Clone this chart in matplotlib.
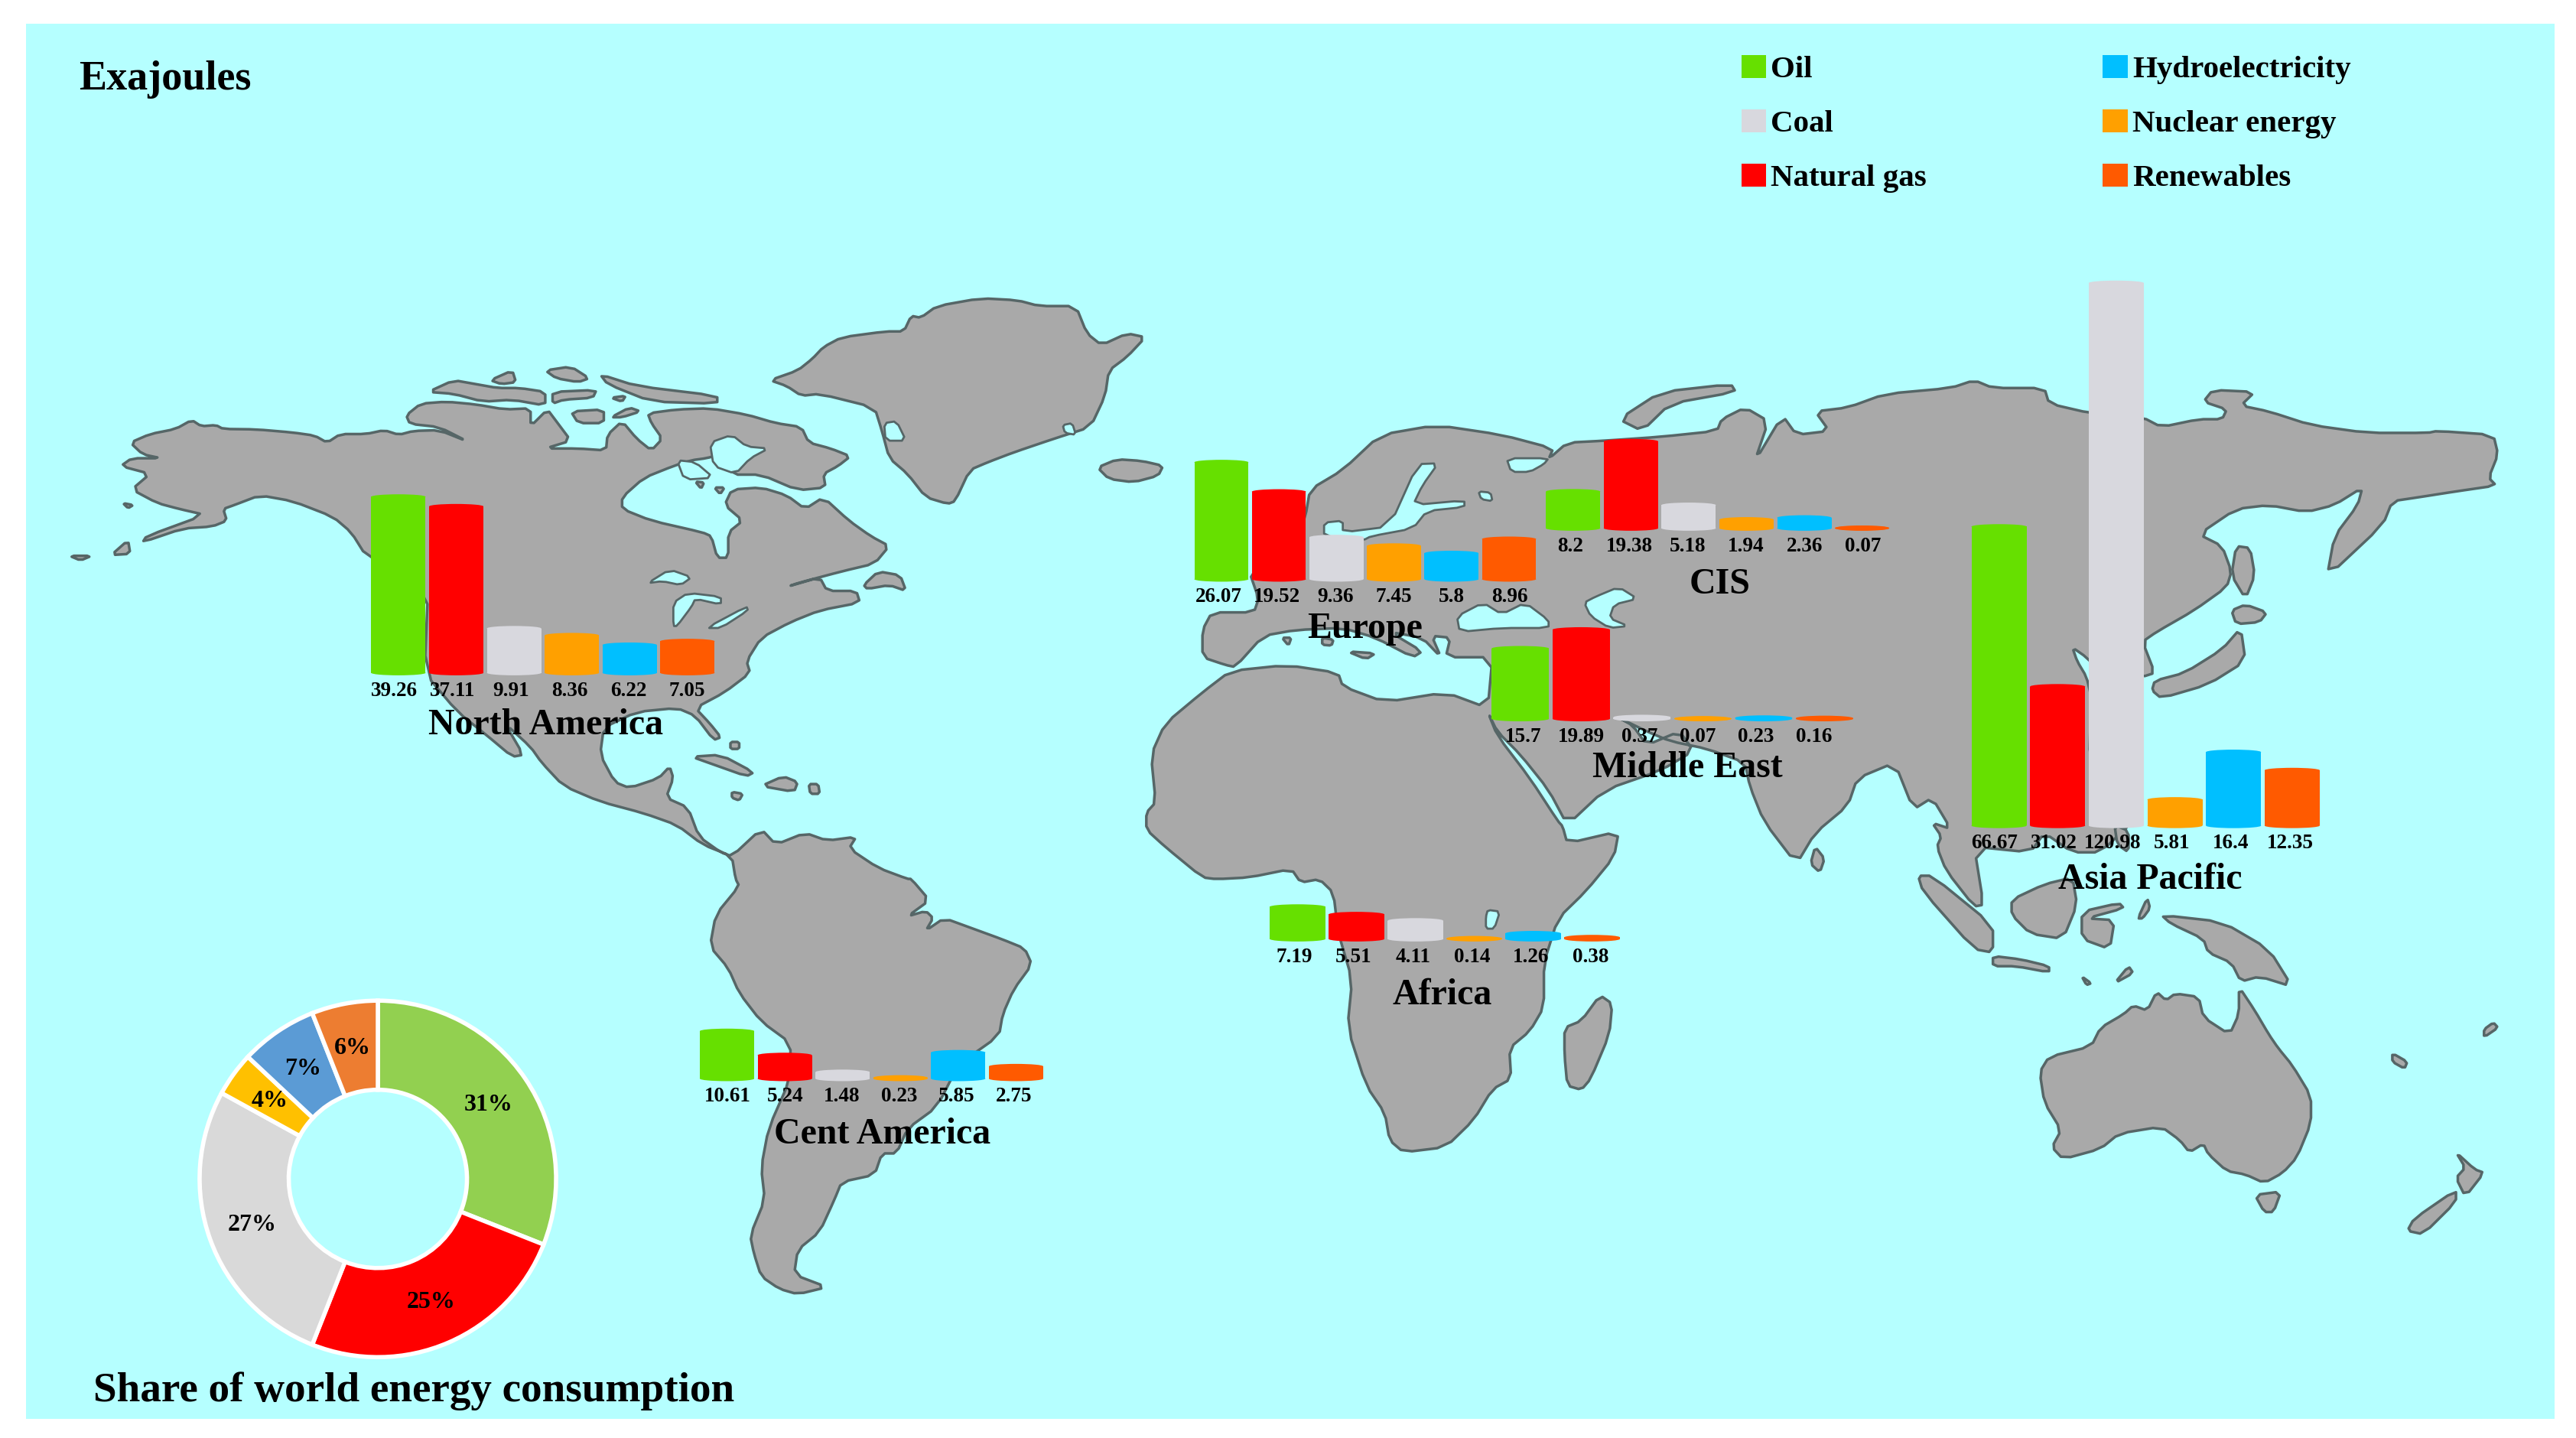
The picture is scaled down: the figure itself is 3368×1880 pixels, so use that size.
import matplotlib
matplotlib.use("Agg")
import matplotlib.pyplot as plt
from matplotlib.patches import Polygon, Rectangle, Ellipse
import numpy as np

# ---------- data ----------
sources = ["Oil", "Natural gas", "Coal", "Nuclear energy", "Hydroelectricity", "Renewables"]
north_america = [39.26, 37.11, 9.91, 8.36, 6.22, 7.05]
europe = [26.07, 19.52, 9.36, 7.45, 5.8, 8.96]
cis = [8.2, 19.38, 5.18, 1.94, 2.36, 0.07]
middle_east = [15.7, 19.89, 0.37, 0.07, 0.23, 0.16]
asia_pacific = [66.67, 31.02, 120.98, 5.81, 16.4, 12.35]
africa = [7.19, 5.51, 4.11, 0.14, 1.26, 0.38]
cent_america = [10.61, 5.24, 1.48, 0.23, 5.85, 2.75]
share_values = [31, 25, 27, 4, 7, 6]

SERIF = "Liberation Serif"
W, H = 1568.0, 875.7
BG = "#B5FFFF"; LAND = "#A9A9A9"; EDGE = "#566667"
bar_colors = ["#66E000", "#FF0000", "#D8D8DE", "#FFA000", "#00BFFF", "#FF5A00"]
pie_colors = ["#92D050", "#FF0000", "#D9D9D9", "#FFC000", "#5B9BD5", "#ED7D31"]

fig = plt.figure(figsize=(33.68, 18.81), dpi=100, facecolor="white")
base = fig.add_axes([0, 0, 1, 1]); base.set_xlim(0, W); base.set_ylim(H, 0); base.axis("off")
base.add_patch(Rectangle((16, 15), 1539, 849, fc=BG, ec="none", zorder=0))

# coordinate helpers for tracing the background map
def A(p): return [(x*0.4455, 163+y*0.2375) for x, y in p]
def B(p): return [(675+x*0.5694, 163+y*0.2375) for x, y in p]
def C(p): return [(x*0.4455, 535.4+y*0.217) for x, y in p]
def D(p): return [(675+x*0.5694, 488.8+y*0.2078) for x, y in p]

def smooth(pts, n=1):
    p = np.array(pts, float)
    for _ in range(n):
        q = np.roll(p, -1, axis=0)
        p = np.column_stack([0.8*p+0.2*q, 0.2*p+0.8*q]).reshape(-1, 2)
    return p

def land(pts, n=1):
    base.add_patch(Polygon(smooth(pts, n), closed=True, fc=LAND, ec=EDGE, lw=2.5, joinstyle="round", zorder=1))
def water(pts, n=1):
    base.add_patch(Polygon(smooth(pts, n), closed=True, fc=BG, ec=EDGE, lw=2.0, joinstyle="round", zorder=2))

# Americas
americas = A([(178,450),(205,428),(240,415),(262,392),(275,408),(295,405),(305,415),(350,416),(400,424),(430,432),(447,450),(465,428),(500,428),(525,418),(545,430),(565,420),(600,418),(640,448),(600,410),(560,402),(555,380),(575,350),(610,345),(650,352),(690,365),(725,362),(725,408),(748,365),(760,395),(780,445),(745,465),(790,465),(828,470),(830,430),(850,395),(870,440),(890,470),(905,440),(890,400),(885,375),(925,365),(970,362),(1020,378),(1060,400),(1095,410),(1105,450),(1135,465),(1162,485),(1145,510),(1125,530),(1128,565),(1090,572),(1040,532),(1000,532),(985,480),(965,490),(945,495),(920,510),(880,540),(850,590),(850,620),(890,650),(960,680),(972,690),(980,745),(995,745),(995,680),(1015,650),(990,610),(1000,570),(1040,565),(1075,585),(1100,620),(1125,590),(1160,650),(1190,690),(1215,715),(1195,760),(1150,780),(1090,810),(1078,818),(1120,795),(1130,830),(1170,830),(1175,860),(1120,880),(1080,910),(1040,950),(1020,1010),(1025,1040),(990,1090),(950,1130),(970,1170),(985,1205),(975,1212),(950,1150),(925,1130),(870,1140),(825,1180),(820,1250),(840,1320),(860,1335),(900,1310),(915,1280),(920,1310),(910,1360),(940,1385),(955,1460),(985,1500),(1000,1510),(1040,1440),(1060,1480),(1100,1450),(1130,1470),(1170,1460),(1160,1490),(1200,1540),(1240,1568)]) \
 + C([(1245,0),(1270,60),(1240,105),(1265,90),(1275,110),(1265,145),(1290,110),(1330,140),(1370,170),(1400,195),(1410,240),(1385,310),(1370,380),(1365,440),(1310,520),(1280,640),(1240,700),(1225,770),(1205,770),(1195,830),(1150,850),(1140,900),(1120,990),(1090,1040),(1085,1110),(1130,1145),(1090,1165),(1065,1150),(1040,1115),(1030,1050),(1025,1000),(1045,900),(1040,810),(1050,700),(1080,560),(1080,460),(1040,400),(1010,320),(995,250),(970,190),(978,100),(1010,20),(1005,0)]) \
 + A([(1000,1510),(960,1480),(925,1430),(880,1400),(820,1370),(770,1330),(740,1270),(725,1230),(690,1170),(715,1250),(700,1255),(665,1200),(625,1140),(580,1040),(585,820),(500,740),(480,680),(455,640),(400,600),(355,585),(320,610),(305,620),(310,650),(290,665),(250,670),(195,705),(200,690),(280,635),(245,620),(215,605),(180,570),(205,530),(165,510),(180,490),(220,490),(195,480)])
land(americas)

for isl in [
    [(585,320),(620,290),(650,300),(680,310),(710,310),(745,320),(745,355),(700,340),(660,345),(620,325)],
    [(670,290),(700,265),(705,295),(685,300)],
    [(745,265),(780,255),(805,285),(790,295),(760,285)],
    [(820,275),(870,305),(980,330),(980,350),(890,345),(830,300)],
    [(755,320),(815,315),(810,335),(770,340),(755,350)],
    [(835,335),(855,330),(850,345)],
    [(780,370),(825,365),(825,400),(790,400)],
    [(835,385),(860,360),(875,370),(850,385)],
    [(95,740),(125,740),(110,752)], [(152,738),(175,700),(178,735)], [(168,605),(182,610),(175,618)],
    [(1180,815),(1200,780),(1230,790),(1238,830),(1215,815),(1185,825)],
    [(945,1255),(985,1250),(1030,1295),(1020,1305),(975,1275)],
    [(1040,1330),(1070,1305),(1090,1320),(1085,1345)],
    [(1000,1345),(1015,1350),(1010,1367),(1000,1360)],
    [(1105,1325),(1118,1325),(1120,1350),(1107,1350)],
    [(998,1217),(1010,1217),(1010,1235),(998,1235)],
    [(950,550),(962,552),(958,568)], [(976,565),(990,565),(984,582)],
]:
    land(A(isl))

for lk in [
    [(885,810),(915,775),(945,795),(930,815),(905,805)],
    [(920,920),(920,860),(940,835),(985,845),(985,865),(950,850),(945,870),(925,920)],
    [(965,925),(1020,870),(1022,880),(985,925)],
    [(1000,430),(1020,460),(1050,465),(1025,490),(1005,530),(975,510),(970,450)],
    [(925,495),(950,500),(975,540),(935,545)],
]:
    water(A(lk))

# Greenland and Iceland
land(A([(1052,290),(1090,265),(1110,235),(1125,205),(1150,180),(1210,165),(1235,165),(1245,125),(1258,130),(1280,100),(1340,80),(1390,85),(1420,100),(1470,100),(1485,170),(1505,200),(1540,170),(1565,180),(1540,230),(1515,265),(1510,330),(1490,410),(1440,440),(1385,475),(1350,500),(1325,520),(1305,600),(1295,607),(1265,590),(1240,530),(1215,490),(1205,420),(1195,360),(1120,325),(1095,330),(1075,305)]))
water(A([(1208,400),(1225,395),(1238,445),(1210,445)])); water(A([(1452,405),(1465,400),(1470,430),(1455,425)]))
land([(668,285),(680,280),(695,281),(708,284),(705,290),(690,294),(675,292)])

# Eurasia and Africa
afroeurasia = B([(100,1000),(100,930),(110,885),(155,885),(160,850),(150,780),(200,700),(210,640),(215,570),(250,520),(290,430),(350,405),(420,430),(475,465),(470,492),(490,450),(530,445),(590,435),(650,420),(655,390),(680,360),(705,395),(690,500),(720,380),(735,430),(770,420),(755,370),(790,360),(830,325),(900,310),(925,290),(945,310),(1000,310),(1005,350),(1050,375),(1105,385),(1125,410),(1165,390),(1190,390),(1195,365),(1170,345),(1180,315),(1225,320),(1210,355),(1240,370),(1285,405),(1345,425),(1410,425),(1420,420),(1480,430),(1485,480),(1475,540),(1483,560),(1440,575),(1400,590),(1372,600),(1362,660),(1302,795),(1310,690),(1335,610),(1340,565),(1310,610),(1280,628),(1240,610),(1205,620),(1165,685),(1190,715),(1200,780),(1195,820),(1160,880),(1120,935),(1105,960),(1118,1040),(1105,1050),(1060,1040),(1045,1000),(1030,975),(1035,1010),(1045,1050),(1050,1100),(1048,1270),(1070,1340),(1095,1420),(1060,1500),(1030,1500),(1000,1450),(985,1500)]) \
 + D([(925,130),(935,300),(925,305),(895,200),(885,130),(890,100),(880,60)]) \
 + B([(900,1440),(880,1360),(860,1390),(840,1270),(800,1310),(790,1380),(755,1450),(735,1530),(700,1420),(685,1330),(680,1270),(640,1235),(600,1215),(575,1190),(545,1155),(560,1175),(575,1225),(610,1190),(625,1240),(590,1290),(530,1340),(490,1430),(470,1340),(440,1250),(415,1190),(405,1140),(415,1200),(450,1310),(480,1420)]) \
 + D([(485,70),(490,120),(545,85),(540,160),(510,260),(480,340),(465,470),(465,600),(450,670),(428,720),(430,810),(410,840),(390,930),(360,1010),(315,1025),(300,990),(295,910),(275,830),(255,660),(260,520),(245,380),(240,265),(225,225),(205,235),(195,195),(150,220),(115,225),(100,220),(60,130),(40,80),(40,30),(50,0)]) \
 + B([(45,1250),(60,1170),(100,1090),(130,1035),(190,1020),(245,1040),(250,1075),(295,1115),(360,1090),(405,1130),(410,1000),(360,1000),(365,950),(345,945),(355,1000),(335,950),(300,935),(335,985),(325,1000),(285,950),(250,925),(200,930),(165,945),(135,1025),(125,1020)])
land(afroeurasia)

for lk in [
    [(375,935),(372,895),(400,860),(420,890),(445,860),(470,905),(470,925),(420,925)],
    [(508,860),(520,845),(545,820),(565,850),(540,865),(535,900),(555,920),(535,925),(515,895)],
    [(330,505),(352,503),(335,560),(325,610),(380,598),(380,615),(340,625),(325,670),(280,690),(272,700),(230,690),(230,655),(250,650),(250,680),(300,665)],
    [(425,490),(470,490),(465,505),(450,525),(430,525)],
    [(395,575),(408,578),(410,600),(398,595)],
]:
    water(B(lk))

for isl in [
    [(545,390),(590,320),(665,300),(670,320),(600,350),(570,420)],
    [(1205,715),(1220,720),(1225,790),(1215,850),(1200,790)],
    [(1200,880),(1215,865),(1238,885),(1230,910),(1205,915)],
    [(1115,1085),(1125,1105),(1175,1070),(1215,1010),(1210,925),(1190,980),(1150,1040),(1118,1060)],
    [(185,950),(195,950),(192,970)], [(228,950),(240,955),(238,970),(228,968)], [(255,985),(285,990),(275,1005)],
    [(1075,1430),(1090,1445),(1090,1500),(1078,1480)],
]:
    land(B(isl))

for isl in [
    [(865,215),(880,215),(945,360),(945,440),(925,430),(870,260)],
    [(945,450),(975,460),(1005,480),(1005,498),(970,480),(945,480)],
    [(965,285),(1000,240),(1030,220),(1035,300),(1020,400),(985,385),(965,330)],
    [(1040,320),(1080,295),(1085,310),(1045,340),(1075,345),(1070,430),(1040,400)],
    [(1100,340),(1110,280),(1113,310),(1105,340)],
    [(1125,330),(1190,350),(1240,430),(1265,540),(1230,510),(1210,525),(1200,470),(1175,440),(1170,400),(1135,355)],
    [(1040,510),(1050,530),(1045,535)], [(1075,530),(1090,480),(1095,500)],
    [(755,130),(765,165),(760,205),(750,180)],
    [(525,565),(538,590),(535,680),(515,810),(505,842),(490,830),(487,740),(487,660),(505,640)],
    [(995,790),(1005,745),(1050,715),(1060,660),(1085,620),(1095,595),(1110,610),(1120,555),(1130,580),(1140,560),(1165,570),(1170,630),(1198,680),(1208,620),(1208,540),(1225,610),(1240,680),(1250,720),(1265,770),(1285,860),(1285,940),(1270,1040),(1255,1085),(1235,1115),(1215,1090),(1195,1080),(1175,1030),(1170,1000),(1155,1025),(1145,990),(1125,950),(1080,970),(1060,1015),(1020,1045),(1008,1010),(1018,960),(1000,880)],
    [(1225,1150),(1253,1140),(1245,1200),(1235,1200)],
    [(1440,1025),(1460,1075),(1470,1085),(1450,1155),(1440,1100),(1450,1070)],
    [(1440,1135),(1440,1170),(1405,1265),(1388,1255),(1395,1220)],
    [(1372,735),(1388,760),(1385,780),(1372,760)], [(1480,645),(1485,660),(1470,688),(1470,665)],
]:
    land(D(isl))
water(D([(405,315),(418,320),(412,370),(403,370),(403,335)]))

# ---------- regional bars ----------
PX_PER_UNIT = 2.73
CAP = 3.0
top = fig.add_axes([0, 0, 1, 1], zorder=20); top.set_xlim(0, W); top.set_ylim(H, 0); top.axis("off"); top.patch.set_alpha(0)

# name, values, bar span, baseline, name position, first and last value-label centres
regions = [
    ("North America", north_america, 226, 435, 410, 332, 441.5, 240, 418),
    ("Europe", europe, 727, 935, 353, 831, 382.5, 742, 919),
    ("CIS", cis, 941, 1150, 322, 1047, 355.5, 956, 1134),
    ("Middle East", middle_east, 908, 1128, 438, 1027, 467.5, 927, 1104),
    ("Asia Pacific", asia_pacific, 1200, 1412, 503, 1309, 535.5, 1214, 1394),
    ("Africa", africa, 773, 986, 572, 878, 605.5, 788, 968),
    ("Cent America", cent_america, 426, 635, 657, 537, 690.5, 443, 617),
]
for name, vals, x0, x1, y0, lx, ly, t0, t1 in regions:
    n = len(vals)
    ymax = 130.0
    hpx = ymax*PX_PER_UNIT
    ax = fig.add_axes([x0/W, 1-y0/H, (x1-x0)/W, hpx/H], zorder=10)
    ax.patch.set_alpha(0); ax.axis("off")
    ax.set_xlim(-0.47, n-1+0.47); ax.set_ylim(0, ymax)
    ax.bar(range(n), vals, width=0.94, color=bar_colors, linewidth=0)
    for i, v in enumerate(vals):
        for yy in (0, v):
            ax.add_patch(Ellipse((i, yy), 0.94, CAP/PX_PER_UNIT, fc=bar_colors[i], ec="none", clip_on=False))
    for xc, v in zip(np.linspace(t0, t1, n), vals):
        top.text(xc, y0+10.5, f"{v:g}", ha="center", va="center", family=SERIF, weight="bold", fontsize=19.5, color="black")
    top.text(lx, ly, name, ha="center", va="center", family=SERIF, weight="bold", fontsize=34.5, color="black")

# ---------- share doughnut ----------
cx, cy, r = 230, 718, 108.5
pax = fig.add_axes([(cx-r)/W, 1-(cy+r)/H, 2*r/W, 2*r/H], zorder=10)
pax.patch.set_alpha(0)
pax.pie(share_values, colors=pie_colors, startangle=90, counterclock=False, radius=1.0,
        autopct="%.0f%%", pctdistance=0.75,
        wedgeprops=dict(width=0.5, edgecolor="white", linewidth=4),
        textprops=dict(family=SERIF, weight="bold", fontsize=23, color="black"))
pax.set_xlim(-1, 1); pax.set_ylim(-1, 1)

# ---------- titles and legend ----------
top.text(48, 48.5, "Exajoules", ha="left", va="center", family=SERIF, weight="bold", fontsize=39)
top.text(57, 846.5, "Share of world energy consumption", ha="left", va="center", family=SERIF, weight="bold", fontsize=39.7)

legend_order = [("Oil", 1060, 41), ("Coal", 1060, 74), ("Natural gas", 1060, 107),
                ("Hydroelectricity", 1280, 41), ("Nuclear energy", 1280, 74), ("Renewables", 1280, 107)]
for label, lx, ly in legend_order:
    c = bar_colors[sources.index(label)]
    top.add_patch(Rectangle((lx, ly-7), 15, 14, fc=c, ec="none"))
    top.text(lx+18, ly+1.5, label, ha="left", va="center", family=SERIF, weight="bold", fontsize=29.5)

fig.savefig("out.png", dpi=100, facecolor="white")
